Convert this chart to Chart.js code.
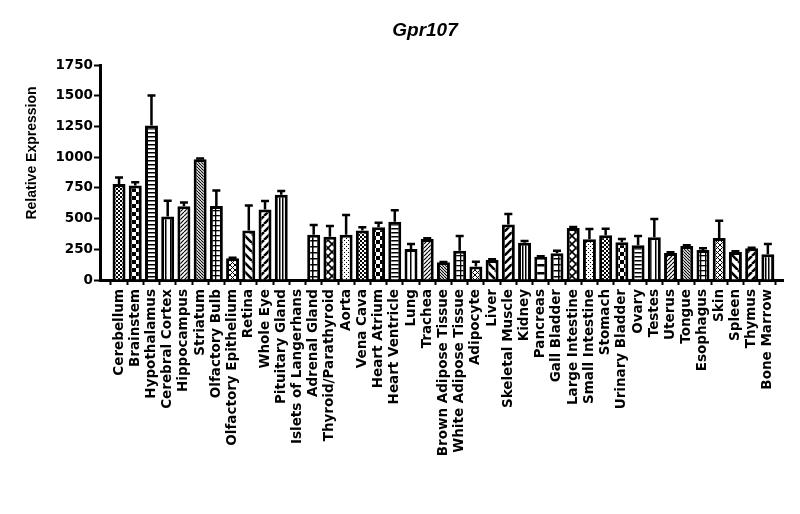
<!DOCTYPE html>
<html lang="en">
<head>
    <meta charset="UTF-8">
    <title>Gpr107</title>
    <style>
        body { margin: 0; padding: 0; background: #fff; }
        .chart-box { width: 800px; height: 514px; }
    </style>
</head>
<body>
    <div class="chart-box">
        <canvas id="gprChart" width="800" height="514"></canvas>
    </div>
    <script src="https://cdn.jsdelivr.net/npm/chart.js"></script>
    <script>
        // Tissues shown on the x axis
        const tissues = ['Cerebellum', 'Brainstem', 'Hypothalamus', 'Cerebral Cortex', 'Hippocampus', 'Striatum',
            'Olfactory Bulb', 'Olfactory Epithelium', 'Retina', 'Whole Eye', 'Pituitary Gland', 'Islets of Langerhans',
            'Adrenal Gland', 'Thyroid/Parathyroid', 'Aorta', 'Vena Cava', 'Heart Atrium', 'Heart Ventricle', 'Lung',
            'Trachea', 'Brown Adipose Tissue', 'White Adipose Tissue', 'Adipocyte', 'Liver', 'Skeletal Muscle',
            'Kidney', 'Pancreas', 'Gall Bladder', 'Large Intestine', 'Small Intestine', 'Stomach', 'Urinary Bladder',
            'Ovary', 'Testes', 'Uterus', 'Tongue', 'Esophagus', 'Skin', 'Spleen', 'Thymus', 'Bone Marrow'];

        // Mean relative expression per tissue
        const expression = [782, 769, 1258, 516, 600, 983, 603, 177, 402, 573, 693, 0,
            369, 353, 369, 402, 429, 475, 253, 334, 144, 239, 109, 163, 451,
            304, 190, 217, 424, 331, 364, 307, 283, 348, 220, 277, 244, 342, 228, 258, 209];

        // Upper error (SEM) per tissue
        const errorUp = [52, 27, 244, 130, 30, 5, 125, 5, 204, 71, 32, 0,
            79, 87, 161, 27, 38, 93, 40, 5, 3, 119, 40, 5, 87,
            14, 3, 22, 8, 84, 54, 27, 75, 149, 5, 5, 14, 141, 5, 5, 84];

        // y axis ticks
        const yTicks = [0, 250, 500, 750, 1000, 1250, 1500, 1750];

        // fill pattern of each bar, repeats every 15 bars
        const patternCycle = ['fineCheck', 'check', 'hLines', 'vSparse', 'fwd', 'back', 'grid', 'xSmall',
            'wideBack', 'wideFwd', 'vDense', 'hWide', 'grid2', 'xBig', 'dots'];

        function makePattern(type) {
            const sizes = { fineCheck: 4, check: 8, hLines: 4, vSparse: 5, fwd: 4, back: 3, grid: 5, xSmall: 5,
                wideBack: 9, wideFwd: 8, vDense: 3, hWide: 8, grid2: 6, xBig: 8, dots: 4 };
            const s = sizes[type];
            const c = document.createElement('canvas');
            c.width = s;
            c.height = s;
            const g = c.getContext('2d');
            g.fillStyle = '#fff';
            g.fillRect(0, 0, s, s);
            g.fillStyle = '#000';
            g.strokeStyle = '#000';
            const diag = (dir, lw) => {
                g.lineWidth = lw;
                g.beginPath();
                for (const k of [-s, 0, s]) {
                    if (dir === 'fwd') { g.moveTo(k, s); g.lineTo(k + s, 0); }
                    else { g.moveTo(k, 0); g.lineTo(k + s, s); }
                }
                g.stroke();
            };
            switch (type) {
                case 'fineCheck': g.fillRect(0, 0, 2, 2); g.fillRect(2, 2, 2, 2); break;
                case 'check': g.fillRect(0, 0, 4, 4); g.fillRect(4, 4, 4, 4); break;
                case 'hLines': g.fillRect(0, 0, s, 1.5); break;
                case 'vSparse': g.fillRect(0, 0, 1.5, s); break;
                case 'fwd': diag('fwd', 1.2); break;
                case 'back': diag('back', 1.1); break;
                case 'grid': g.fillRect(0, 0, s, 1.3); g.fillRect(0, 0, 1.3, s); break;
                case 'xSmall': diag('fwd', 1); diag('back', 1); break;
                case 'wideBack': diag('back', 2.6); break;
                case 'wideFwd': diag('fwd', 2.6); break;
                case 'vDense': g.fillRect(0, 0, 1.5, s); break;
                case 'hWide': g.fillRect(0, 0, s, 2.5); break;
                case 'grid2': g.fillRect(0, 0, s, 1.5); g.fillRect(0, 0, 1.5, s); break;
                case 'xBig': diag('fwd', 1.6); diag('back', 1.6); break;
                case 'dots': g.fillRect(0, 0, 1, 1); g.fillRect(2, 2, 1, 1); break;
            }
            return g.createPattern(c, 'repeat');
        }

        const fills = tissues.map((t, i) => makePattern(patternCycle[i % patternCycle.length]));

        // Error bars (upward only) drawn from the data through the scales
        const errorBarPlugin = {
            id: 'errorBars',
            afterDatasetsDraw(chart) {
                const ctx = chart.ctx;
                const meta = chart.getDatasetMeta(0);
                const y = chart.scales.y;
                ctx.save();
                ctx.strokeStyle = '#000';
                ctx.lineWidth = 2.5;
                meta.data.forEach((bar, i) => {
                    if (!errorUp[i]) return;
                    const top = y.getPixelForValue(expression[i] + errorUp[i]);
                    const base = y.getPixelForValue(expression[i]);
                    ctx.beginPath();
                    ctx.moveTo(bar.x, base);
                    ctx.lineTo(bar.x, top);
                    ctx.moveTo(bar.x - 4, top);
                    ctx.lineTo(bar.x + 4, top);
                    ctx.stroke();
                });
                ctx.restore();
            }
        };

        // Chart title and y axis title
        const titlesPlugin = {
            id: 'titles',
            afterDraw(chart) {
                const ctx = chart.ctx;
                ctx.save();
                ctx.fillStyle = '#000';
                ctx.textAlign = 'center';
                ctx.textBaseline = 'alphabetic';
                ctx.font = 'italic bold 19px "Liberation Sans", Arial, sans-serif';
                ctx.fillText('Gpr107', 425, 36);
                ctx.translate(32, 153);
                ctx.rotate(-Math.PI / 2);
                ctx.textBaseline = 'middle';
                ctx.font = 'bold 14px "Liberation Sans", Arial, sans-serif';
                ctx.fillText('Relative Expression', 0, 0);
                ctx.restore();
            }
        };

        const tickFont = { family: '"DejaVu Sans", sans-serif', size: 13.5, weight: 'bold' };

        const gprChart = new Chart(document.getElementById('gprChart'), {
            type: 'bar',
            data: {
                datasets: [{
                    label: 'Gpr107',
                    data: tissues.map((t, i) => ({ x: i, y: expression[i] })),
                    backgroundColor: fills,
                    borderColor: '#000',
                    borderWidth: 3,
                    borderSkipped: 'start',
                    categoryPercentage: 1.0,
                    barPercentage: 0.8
                }]
            },
            options: {
                responsive: false,
                animation: false,
                layout: { padding: { top: 65, right: 17, bottom: 0, left: 0 } },
                plugins: {
                    legend: { display: false },
                    title: { display: false },
                    tooltip: { enabled: false }
                },
                scales: {
                    x: {
                        type: 'linear',
                        min: -0.66,
                        max: 40.42,
                        afterFit(scale) { scale.height = 234; },
                        border: { display: true, color: '#000', width: 3 },
                        grid: { drawOnChartArea: false, drawTicks: true, tickLength: 5, tickColor: '#000', tickWidth: 2 },
                        ticks: {
                            stepSize: 1,
                            includeBounds: false,
                            autoSkip: false,
                            minRotation: 90,
                            maxRotation: 90,
                            padding: 4,
                            color: '#000',
                            font: tickFont,
                            callback: (v) => Number.isInteger(v) ? tissues[v] : ''
                        }
                    },
                    y: {
                        min: 0,
                        max: 1750,
                        afterFit(scale) { scale.width = 100; },
                        afterBuildTicks(scale) { scale.ticks = yTicks.map(v => ({ value: v })); },
                        border: { display: true, color: '#000', width: 3 },
                        grid: { drawOnChartArea: false, drawTicks: true, tickLength: 6, tickColor: '#000', tickWidth: 2 },
                        ticks: { padding: 1, color: '#000', font: tickFont, callback: (v) => String(v) }
                    }
                }
            },
            plugins: [errorBarPlugin, titlesPlugin]
        });
    </script>
</body>
</html>
